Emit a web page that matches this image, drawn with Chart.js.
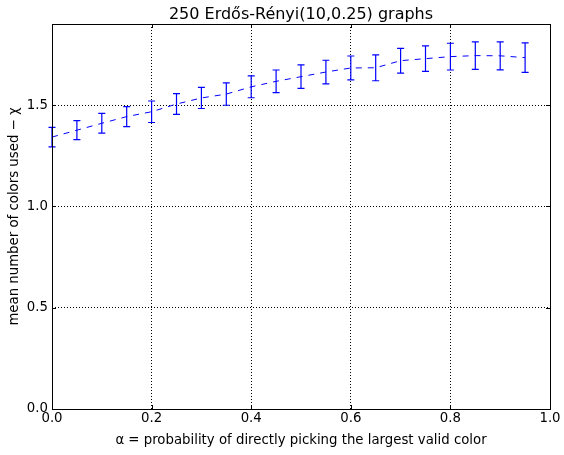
<!DOCTYPE html>
<html lang="en">
<head>
    <meta charset="UTF-8">
    <title>Erdős-Rényi colouring</title>
    <script src="https://cdn.jsdelivr.net/npm/chart.js"></script>
    <style>
        * { margin: 0; padding: 0; box-sizing: border-box; }
        body { background: #fff; }
        .wrap { width: 564px; height: 455px; }
    </style>
</head>
<body>
<div class="wrap"><canvas id="chart" width="564" height="455"></canvas></div>

<script>
    // values
    const alphas = [0.0, 0.05, 0.1, 0.15, 0.2, 0.25, 0.3, 0.35, 0.4, 0.45,
                    0.5, 0.55, 0.6, 0.65, 0.7, 0.75, 0.8, 0.85, 0.9, 0.95];
    const meanColors = [1.342, 1.376, 1.41, 1.443, 1.467, 1.505, 1.535, 1.554, 1.59, 1.617,
                        1.64, 1.663, 1.683, 1.684, 1.719, 1.729, 1.739, 1.744, 1.743, 1.734];
    const errColors = [0.048, 0.047, 0.049, 0.049, 0.053, 0.051, 0.052, 0.055, 0.054, 0.056,
                       0.058, 0.058, 0.059, 0.064, 0.061, 0.063, 0.066, 0.068, 0.069, 0.073];
    const xTicks = [0.0, 0.2, 0.4, 0.6, 0.8, 1.0];
    const yTicks = [0.0, 0.5, 1.0, 1.5];

    const FONT = "'DejaVu Sans', sans-serif";
    const LABEL_SIZE = 13.3;

    // error bars + inward tick marks + frame, matplotlib style
    const errorBars = {
        id: 'errorBars',
        afterDatasetsDraw(chart) {
            const ctx = chart.ctx;
            const xs = chart.scales.x, ys = chart.scales.y;
            ctx.save();
            ctx.strokeStyle = '#0000ff';
            ctx.lineWidth = 1.2;
            alphas.forEach((a, i) => {
                const px = xs.getPixelForValue(a);
                const top = ys.getPixelForValue(meanColors[i] + errColors[i]);
                const bot = ys.getPixelForValue(meanColors[i] - errColors[i]);
                ctx.beginPath();
                ctx.moveTo(px, top); ctx.lineTo(px, bot);
                ctx.moveTo(px - 3.5, top); ctx.lineTo(px + 3.5, top);
                ctx.moveTo(px - 3.5, bot); ctx.lineTo(px + 3.5, bot);
                ctx.stroke();
            });
            ctx.restore();
        },
        afterDraw(chart) {
            const ctx = chart.ctx;
            const a = chart.chartArea;
            const xs = chart.scales.x, ys = chart.scales.y;
            ctx.save();
            ctx.strokeStyle = '#000';
            ctx.lineWidth = 1;
            ctx.beginPath();
            xTicks.forEach(v => {
                const px = Math.round(xs.getPixelForValue(v)) + 0.5;
                ctx.moveTo(px, a.bottom); ctx.lineTo(px, a.bottom - 4);
                ctx.moveTo(px, a.top); ctx.lineTo(px, a.top + 4);
            });
            yTicks.forEach(v => {
                const py = Math.round(ys.getPixelForValue(v)) + 0.5;
                ctx.moveTo(a.left, py); ctx.lineTo(a.left + 4, py);
                ctx.moveTo(a.right, py); ctx.lineTo(a.right - 4, py);
            });
            ctx.stroke();
            ctx.strokeRect(Math.round(a.left) + 0.5, Math.round(a.top) + 0.5,
                           Math.round(a.right - a.left), Math.round(a.bottom - a.top));
            ctx.restore();
        }
    };

    new Chart(document.getElementById('chart'), {
        type: 'line',
        data: {
            datasets: [{
                data: alphas.map((a, i) => ({ x: a, y: meanColors[i] })),
                borderColor: '#0000ff',
                borderWidth: 1,
                borderDash: [6, 6],
                pointRadius: 0,
                fill: false,
                tension: 0
            }]
        },
        options: {
            responsive: false,
            animation: false,
            layout: { padding: { left: 0, right: 14, top: 0, bottom: 0 } },
            plugins: {
                legend: { display: false },
                tooltip: { enabled: false },
                title: { display: false }
            },
            scales: {
                x: {
                    type: 'linear',
                    min: 0, max: 1,
                    afterBuildTicks: s => { s.ticks = xTicks.map(v => ({ value: v })); },
                    afterFit: s => { s.height = 46; },
                    grid: { color: '#000', lineWidth: 1, drawTicks: false },
                    border: { display: false, dash: [1, 2] },
                    ticks: {
                        color: '#000', padding: 2,
                        font: { family: FONT, size: LABEL_SIZE },
                        callback: v => v.toFixed(1)
                    },
                    title: {
                        display: true,
                        text: 'α = probability of directly picking the largest valid color',
                        color: '#000',
                        font: { family: FONT, size: LABEL_SIZE },
                        padding: { top: 0, bottom: 6 }
                    }
                },
                // top axis only carries the title, so it is centred over the plot
                top: {
                    type: 'linear',
                    position: 'top',
                    min: 0, max: 1,
                    afterFit: s => { s.height = 24; },
                    grid: { display: false, drawTicks: false },
                    border: { display: false },
                    ticks: { display: false },
                    title: {
                        display: true,
                        text: '250 Erdős-Rényi(10,0.25) graphs',
                        color: '#000',
                        font: { family: FONT, size: 16 },
                        padding: { top: 5, bottom: 0 }
                    }
                },
                y: {
                    type: 'linear',
                    min: 0, max: 1.9,
                    afterBuildTicks: s => { s.ticks = yTicks.map(v => ({ value: v })); },
                    afterFit: s => { s.width = 52; },
                    grid: { color: '#000', lineWidth: 1, drawTicks: false },
                    border: { display: false, dash: [1, 2] },
                    ticks: {
                        color: '#000', padding: 4,
                        font: { family: FONT, size: LABEL_SIZE },
                        callback: v => v.toFixed(1)
                    },
                    title: {
                        display: true,
                        text: 'mean number of colors used − χ',
                        color: '#000',
                        font: { family: FONT, size: LABEL_SIZE },
                        padding: { top: 7, bottom: 0 }
                    }
                }
            }
        },
        plugins: [errorBars]
    });
</script>
</body>
</html>
